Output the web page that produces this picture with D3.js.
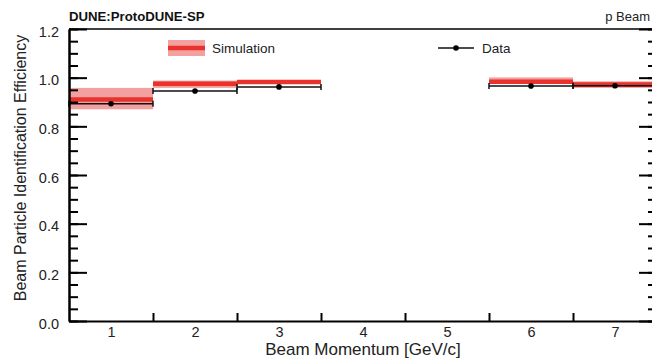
<!DOCTYPE html>
<html>
<head>
<meta charset="utf-8">
<script src="https://cdn.jsdelivr.net/npm/d3@7"></script>
<style>
  html, body { margin: 0; padding: 0; background: #fff; }
  svg { display: block; font-family: "Liberation Sans", Arial, sans-serif; }
</style>
</head>
<body>
<svg id="chart" width="652" height="360"></svg>
<script>
// ---- data ----
const categories = [1, 2, 3, 4, 5, 6, 7];            // beam momentum bins [GeV/c]
const simValue  = [0.910, 0.975, 0.982, null, null, 0.983, 0.972];
const simLow    = [0.870, 0.958, 0.976, null, null, 0.976, 0.958];
const simHigh   = [0.958, 0.988, 0.988, null, null, 1.001, 0.985];
const dataValue = [0.893, 0.945, 0.962, null, null, 0.966, 0.967];
const yTicks = [0.0, 0.2, 0.4, 0.6, 0.8, 1.0, 1.2];
const xEdges = [1.5, 2.5, 3.5, 4.5, 5.5, 6.5];

(function () {
const svg = d3.select("#chart");
const mLeft = 69, mRight = 657, mTop = 29, mBottom = 321;

const x = d3.scaleLinear().domain([0.5, 7.5]).range([mLeft, mRight]);
const y = d3.scaleLinear().domain([0, 1.2]).range([mBottom, mTop]);

const darkRed = "#e8322b";
const lightRed = "#f3a0a0";
const textCol = "#222";

// ---- bins ----
const bins = categories.map((c, i) => ({
  c, lo: c - 0.5, hi: c + 0.5,
  sim: simValue[i], sLo: simLow[i], sHi: simHigh[i], data: dataValue[i]
}));
const simBins = bins.filter(d => d.sim != null);
const dataBins = bins.filter(d => d.data != null);

const g = svg.append("g");
g.selectAll("rect.band").data(simBins).enter().append("rect")
  .attr("class", "band")
  .attr("x", d => x(d.lo)).attr("width", d => x(d.hi) - x(d.lo))
  .attr("y", d => y(d.sHi)).attr("height", d => y(d.sLo) - y(d.sHi))
  .attr("fill", lightRed);
g.selectAll("line.sim").data(simBins).enter().append("line")
  .attr("class", "sim")
  .attr("x1", d => x(d.lo)).attr("x2", d => x(d.hi))
  .attr("y1", d => y(d.sim)).attr("y2", d => y(d.sim))
  .attr("stroke", darkRed).attr("stroke-width", 4.5);

const dg = g.selectAll("g.data").data(dataBins).enter().append("g").attr("class", "data");
dg.append("line")
  .attr("x1", d => x(d.lo)).attr("x2", d => x(d.hi))
  .attr("y1", d => y(d.data)).attr("y2", d => y(d.data))
  .attr("stroke", "#111").attr("stroke-width", 1.5);
dg.append("line")
  .attr("x1", d => x(d.lo)).attr("x2", d => x(d.lo))
  .attr("y1", d => y(d.data) - 3).attr("y2", d => y(d.data) + 3)
  .attr("stroke", "#111").attr("stroke-width", 1.5);
dg.append("line")
  .attr("x1", d => x(d.hi)).attr("x2", d => x(d.hi))
  .attr("y1", d => y(d.data) - 3).attr("y2", d => y(d.data) + 3)
  .attr("stroke", "#111").attr("stroke-width", 1.5);
dg.append("circle")
  .attr("cx", d => x(d.c)).attr("cy", d => y(d.data)).attr("r", 2.8)
  .attr("fill", "#000");

// ---- axes ----
const minorY = d3.range(0, 1.2001, 0.05);
function styleAxis(sel, w) {
  sel.selectAll("path.domain").attr("stroke", "#000").attr("stroke-width", w);
  sel.selectAll(".tick line").attr("stroke", "#000").attr("stroke-width", 2);
}
const lm = svg.append("g").attr("transform", `translate(${mLeft},0)`)
  .call(d3.axisLeft(y).tickValues(minorY).tickSize(-9).tickSizeOuter(0).tickFormat(""));
styleAxis(lm, 2);
const lM = svg.append("g").attr("transform", `translate(${mLeft},0)`)
  .call(d3.axisLeft(y).tickValues(yTicks).tickSize(-18).tickSizeOuter(0).tickPadding(10)
    .tickFormat(d3.format(".1f")));
styleAxis(lM, 2);
lM.selectAll("text").attr("font-size", 14.5).attr("fill", textCol).attr("dy", "0.5em")
  .attr("font-family", "Liberation Sans, Arial, sans-serif");

const rm = svg.append("g").attr("transform", `translate(${mRight},0)`)
  .call(d3.axisRight(y).tickValues(minorY).tickSize(-9).tickSizeOuter(0).tickFormat(""));
styleAxis(rm, 2);
const rM = svg.append("g").attr("transform", `translate(${mRight},0)`)
  .call(d3.axisRight(y).tickValues(yTicks).tickSize(-18).tickSizeOuter(0).tickFormat(""));
styleAxis(rM, 2);

const bE = svg.append("g").attr("transform", `translate(0,${mBottom})`)
  .call(d3.axisBottom(x).tickValues(xEdges).tickSize(-8).tickSizeOuter(0).tickFormat(""));
styleAxis(bE, 2);
const bL = svg.append("g").attr("transform", `translate(0,${mBottom})`)
  .call(d3.axisBottom(x).tickValues(categories).tickSize(0).tickSizeOuter(0).tickPadding(6)
    .tickFormat(d3.format("d")));
bL.select("path.domain").remove();
bL.selectAll("text").attr("font-size", 14.5).attr("fill", textCol)
  .attr("font-family", "Liberation Sans, Arial, sans-serif");

svg.append("line")
  .attr("x1", x(0.5)).attr("x2", x(7.5)).attr("y1", y(1.2)).attr("y2", y(1.2))
  .attr("stroke", "#000").attr("stroke-width", 1.5);

// ---- axis titles ----
svg.append("text")
  .attr("x", 363).attr("y", 355)
  .attr("text-anchor", "middle")
  .attr("font-size", 17).attr("fill", textCol)
  .text("Beam Momentum [GeV/c]");
svg.append("text")
  .attr("transform", "translate(26,168) rotate(-90)")
  .attr("text-anchor", "middle")
  .attr("font-size", 16).attr("fill", textCol)
  .text("Beam Particle Identification Efficiency");

// ---- header texts ----
svg.append("text").attr("x", 69).attr("y", 20.5)
  .attr("font-size", 13.2).attr("font-weight", "bold").attr("fill", "#111")
  .text("DUNE:ProtoDUNE-SP");
svg.append("text").attr("x", 650).attr("y", 20.5)
  .attr("text-anchor", "end")
  .attr("font-size", 13).attr("fill", textCol)
  .text("p Beam");

// ---- legend ----
const lg = svg.append("g");
lg.append("rect").attr("x", 168).attr("y", 40).attr("width", 37).attr("height", 16)
  .attr("fill", lightRed);
lg.append("line").attr("x1", 168).attr("x2", 205).attr("y1", 48).attr("y2", 48)
  .attr("stroke", darkRed).attr("stroke-width", 4.5);
lg.append("text").attr("x", 212).attr("y", 53).attr("font-size", 13.5).attr("fill", textCol)
  .text("Simulation");
lg.append("line").attr("x1", 438).attr("x2", 474).attr("y1", 48).attr("y2", 48)
  .attr("stroke", "#111").attr("stroke-width", 1.5);
lg.append("circle").attr("cx", 456).attr("cy", 48).attr("r", 2.8).attr("fill", "#000");
lg.append("text").attr("x", 482).attr("y", 53).attr("font-size", 13.5).attr("fill", textCol)
  .text("Data");
})();
</script>
</body>
</html>
